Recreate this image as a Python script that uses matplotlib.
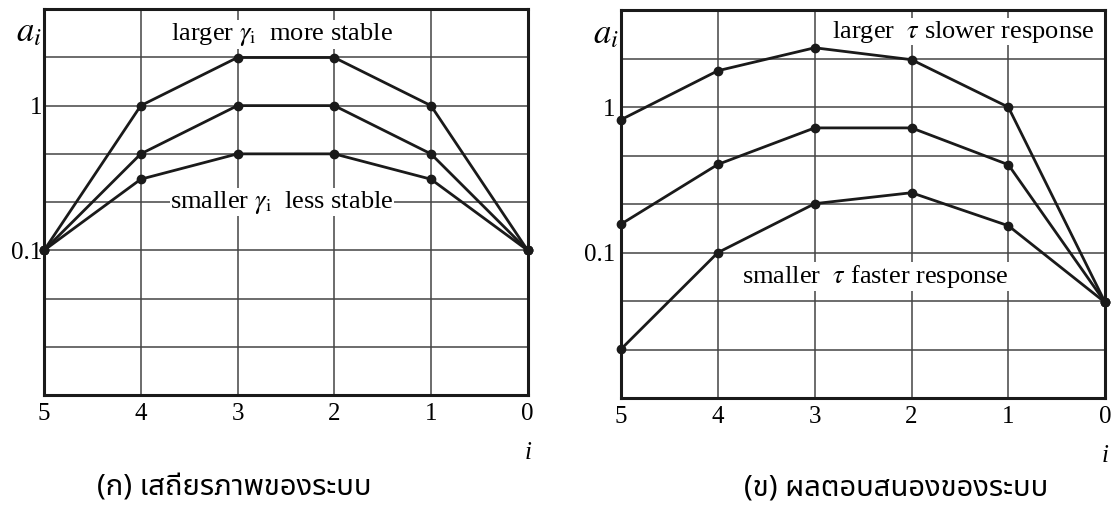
import matplotlib
matplotlib.use("Agg")
import matplotlib.pyplot as plt
import matplotlib.transforms as mtransforms

plt.rcParams["font.family"] = ["Liberation Serif"]
plt.rcParams["mathtext.fontset"] = "stix"

# data
steps = [5, 4, 3, 2, 1, 0]

stab_high = [0.1, 1.0, 2.15, 2.15, 1.0, 0.1]
stab_mid = [0.1, 0.464, 1.0, 1.0, 0.464, 0.1]
stab_low = [0.1, 0.31, 0.464, 0.464, 0.31, 0.1]

resp_slow = [0.82, 1.78, 2.56, 2.12, 1.0, 0.0454]
resp_mid = [0.157, 0.404, 0.72, 0.72, 0.402, 0.0454]
resp_fast = [0.0217, 0.1, 0.217, 0.258, 0.153, 0.0454]

grid_y = [10 ** (k / 3) for k in range(-5, 2)]

fig = plt.figure(figsize=(11.16, 5.09), dpi=100)
ax1 = fig.add_axes([0.0395, 0.224, 0.4333, 0.758])
ax2 = fig.add_axes([0.5565, 0.218, 0.4338, 0.762])

thai = ["Noto Sans Thai", "Noto Sans", "DejaVu Sans"]


def setup(ax, ypad):
    ax.set_yscale("log")
    ax.set_xlim(5, 0)
    ax.set_ylim(0.01, 10 ** (2 / 3))
    ax.set_xticks(steps)
    ax.set_xticklabels([str(s) for s in steps])
    ax.set_yticks([0.1, 1.0])
    ax.set_yticklabels(["0.1", "1"])
    ax.set_yticks(grid_y, minor=True)
    ax.yaxis.set_minor_formatter(plt.NullFormatter())
    ax.tick_params(which="both", length=0, labelsize=18)
    ax.tick_params(axis="x", pad=6)
    ax.tick_params(axis="y", pad=ypad)
    ax.grid(True, which="both", color="#444444", lw=1.1)
    for s in ax.spines.values():
        s.set_linewidth(2.2)
        s.set_color("#1a1a1a")
    ax.text(-0.004, 0.938, r"$a_i$", transform=ax.transAxes, fontsize=25,
            ha="right", va="center")
    tr = mtransforms.blended_transform_factory(ax.transData, ax.transAxes)
    ax.text(0, -0.15, "i", transform=tr, fontsize=18, style="italic",
            ha="center", va="center")


for ax, ypad, series in [(ax1, 1, [stab_high, stab_mid, stab_low]),
                         (ax2, 4, [resp_slow, resp_mid, resp_fast])]:
    setup(ax, ypad)
    for vals in series:
        ax.plot(steps, vals, color="#1a1a1a", lw=2.0, marker="o", ms=6,
                clip_on=False, zorder=3)

box = dict(facecolor="white", edgecolor="none", pad=0.5)
ax1.text(2.54, 3.11, r"larger $\gamma_{\rm i}$  more stable", fontsize=19,
         ha="center", va="center", bbox=box, zorder=4)
ax1.text(2.54, 0.215, r"smaller $\gamma_{\rm i}$  less stable", fontsize=19,
         ha="center", va="center", bbox=box, zorder=4)
ax2.text(1.47, 3.31, r"larger  $\tau$ slower response", fontsize=19,
         ha="center", va="center", bbox=box, zorder=4)
ax2.text(2.37, 0.0685, r"smaller  $\tau$ faster response", fontsize=19,
         ha="center", va="center", bbox=box, zorder=4)

fig.text(0.210, 0.041, "(ก) เสถียรภาพของระบบ", fontsize=21, family=thai,
         ha="center", va="center")
fig.text(0.803, 0.041, "(ข) ผลตอบสนองของระบบ", fontsize=21, family=thai,
         ha="center", va="center")

fig.savefig("out.png", dpi=100)
